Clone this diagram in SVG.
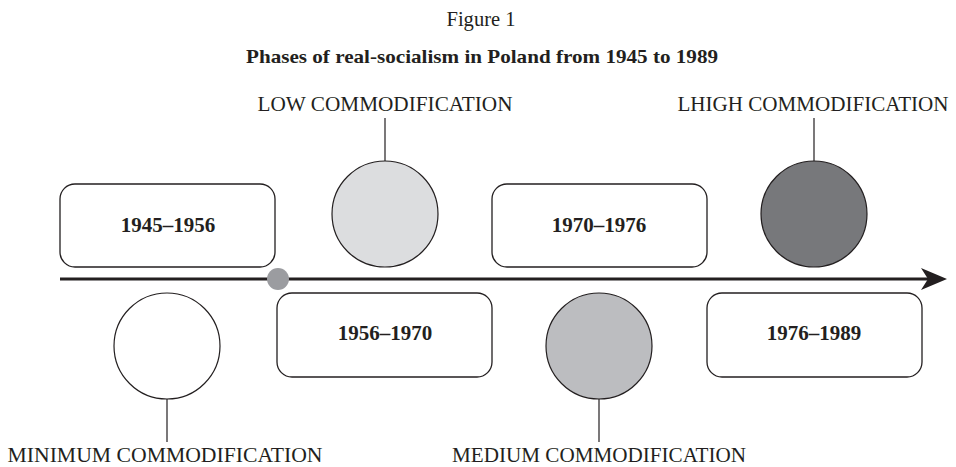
<svg xmlns="http://www.w3.org/2000/svg" width="956" height="467" viewBox="0 0 956 467">
<style>
text{font-family:"Liberation Serif","Times New Roman",serif;fill:#231f20}
.fig{font-size:20px}
.title{font-size:19px;font-weight:bold}
.lbl{font-size:20px}
.yr{font-size:21px;font-weight:bold}
.box{fill:#fff;stroke:#231f20;stroke-width:1.3}
.circ{stroke:#231f20;stroke-width:1.2}
.conn{stroke:#231f20;stroke-width:1.2;fill:none}
</style>
<rect width="956" height="467" fill="#fff"/>
<text class="fig" x="481" y="26" text-anchor="middle" textLength="69" lengthAdjust="spacingAndGlyphs">Figure 1</text>
<text class="title" x="482" y="63" text-anchor="middle" textLength="472" lengthAdjust="spacingAndGlyphs">Phases of real-socialism in Poland from 1945 to 1989</text>

<g id="connectors">
<line class="conn" x1="385" y1="118" x2="385" y2="161"/>
<line class="conn" x1="814" y1="118" x2="814" y2="161"/>
<line class="conn" x1="167" y1="399" x2="167" y2="442"/>
<line class="conn" x1="599" y1="399" x2="599" y2="442"/>
<line x1="60" y1="279" x2="928" y2="279" stroke="#231f20" stroke-width="3"/>
<path d="M947,279 L921,268 L928,279 L921,290 Z" fill="#231f20"/>
</g>

<g id="start-dot"><circle cx="278" cy="279" r="11" fill="#9b9ca0"/></g>

<g id="p1945"><rect class="box" x="60" y="184" width="215" height="83" rx="15"/><text class="yr" x="168" y="232" text-anchor="middle">1945–1956</text></g>
<g id="p1956"><rect class="box" x="277" y="293" width="215" height="84" rx="15"/><text class="yr" x="385" y="340" text-anchor="middle">1956–1970</text></g>
<g id="p1970"><rect class="box" x="492" y="184" width="215" height="83" rx="15"/><text class="yr" x="599" y="232" text-anchor="middle">1970–1976</text></g>
<g id="p1976"><rect class="box" x="707" y="293" width="215" height="84" rx="15"/><text class="yr" x="814" y="340" text-anchor="middle">1976–1989</text></g>

<g id="minimum"><circle class="circ" cx="167" cy="346" r="53" fill="#fff"/><text class="lbl" x="165" y="462" text-anchor="middle" textLength="315" lengthAdjust="spacingAndGlyphs">MINIMUM COMMODIFICATION</text></g>
<g id="low"><circle class="circ" cx="385" cy="214" r="53" fill="#dcdddf"/><text class="lbl" x="385" y="111" text-anchor="middle" textLength="255" lengthAdjust="spacingAndGlyphs">LOW COMMODIFICATION</text></g>
<g id="medium"><circle class="circ" cx="599" cy="346" r="53" fill="#bcbdc0"/><text class="lbl" x="599" y="462" text-anchor="middle" textLength="294" lengthAdjust="spacingAndGlyphs">MEDIUM COMMODIFICATION</text></g>
<g id="high"><circle class="circ" cx="814" cy="214" r="53" fill="#77787b"/><text class="lbl" x="813" y="111" text-anchor="middle" textLength="271" lengthAdjust="spacingAndGlyphs">LHIGH COMMODIFICATION</text></g>
</svg>
